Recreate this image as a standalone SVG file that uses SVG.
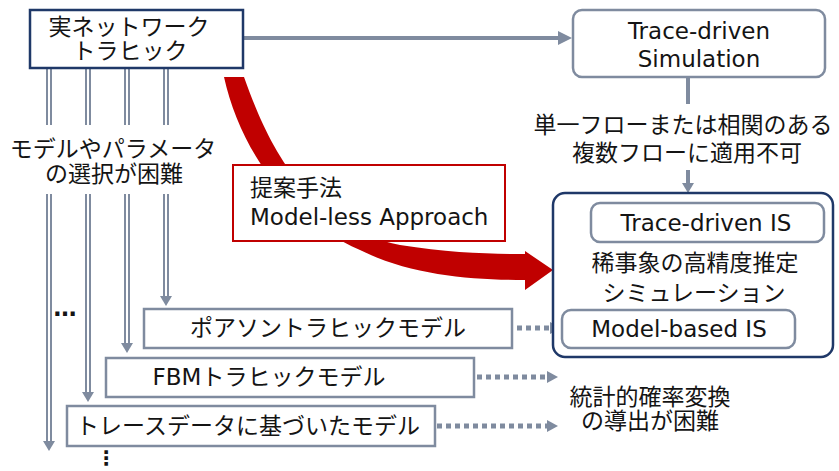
<svg xmlns="http://www.w3.org/2000/svg" width="839" height="471" viewBox="0 0 839 471">
<style>
.t{font-family:"DejaVu Sans","Noto Sans CJK JP",sans-serif;font-size:23px;fill:#141414}
.m{text-anchor:middle}
.gbox{fill:#fff;stroke:#7f8b9f;stroke-width:2.5}
.nbox{fill:#fff;stroke:#1f3868;stroke-width:2.5}
.rbox{fill:#fff;stroke:#c00000;stroke-width:2}
.dbl{stroke:#7f8b9f;stroke-width:6;fill:none}
.dblw{stroke:#fff;stroke-width:2;fill:none}
.solid{stroke:#7f8b9f;stroke-width:4;fill:none}
.dot{stroke:#7f8b9f;stroke-width:5;stroke-dasharray:5 4;fill:none}
.ah{fill:#7f8b9f}
</style>
<rect width="839" height="471" fill="#fff"/>
<g id="connectors">
  <path id="red-arrow" fill="#c00000" d="M224,77 L244,77 C263,130 300,225 400,245 C450,253 490,254 525,254 L525,251 L553,270 L525,290 L525,280 C470,280 410,275 360,250 C290,220 240,150 224,77 Z"/>
  <g id="double-arrows">
    <path class="dbl" d="M49,68V125M88,68V125M127,68V125M166,68V125M49,194V442M88,194V393M127,194V344M166,194V297"/>
    <path class="dblw" d="M49,68V125M88,68V125M127,68V125M166,68V125M49,194V442M88,194V393M127,194V344M166,194V297"/>
    <polygon class="ah" points="160,296 172,296 166,306"/>
    <polygon class="ah" points="121,343 133,343 127,353"/>
    <polygon class="ah" points="82,392 94,392 88,402"/>
    <polygon class="ah" points="43,441 55,441 49,451"/>
  </g>
  <path class="solid" d="M243,38H559"/>
  <polygon class="ah" points="558,31 572,38 558,45"/>
  <path class="solid" d="M688,77V104M688,170V184"/>
  <polygon class="ah" points="682,183 694,183 688,193"/>
  <path class="dot" d="M517,328H551M477,377H547M437,426H547"/>
  <polygon class="ah" points="550,322 562,328 550,334"/>
  <polygon class="ah" points="547,371 558,377 547,383"/>
  <polygon class="ah" points="547,420 558,426 547,432"/>
</g>
<g id="real-traffic">
  <rect class="nbox" x="30" y="10" width="213" height="58"/>
  <text class="t m" x="129" y="35">実ネットワーク</text>
  <text class="t m" x="130" y="59">トラヒック</text>
</g>
<g id="trace-sim">
  <rect class="gbox" x="573" y="10" width="252" height="67" rx="9" stroke-width="2"/>
  <text class="t m" x="699" y="39">Trace-driven</text>
  <text class="t m" x="699" y="67">Simulation</text>
</g>
<g id="note-single-flow">
  <text class="t m" x="683" y="133">単一フローまたは相関のある</text>
  <text class="t m" x="687" y="161">複数フローに適用不可</text>
</g>
<g id="note-model-select">
  <text class="t m" x="113" y="157">モデルやパラメータ</text>
  <text class="t m" x="114" y="182">の選択が困難</text>
</g>
<g id="proposal">
  <rect class="rbox" x="233" y="165" width="272" height="76"/>
  <text class="t" x="250" y="196">提案手法</text>
  <text class="t" x="250" y="225">Model-less Approach</text>
</g>
<g id="is-group">
  <rect class="nbox" x="553" y="193" width="280" height="164" rx="12"/>
  <g id="trace-is">
    <rect class="gbox" x="591" y="203" width="233" height="39" rx="9" stroke-width="2"/>
    <text class="t m" x="706" y="231">Trace-driven IS</text>
  </g>
  <text class="t m" x="695" y="271">稀事象の高精度推定</text>
  <text class="t m" x="694" y="301">シミュレーション</text>
  <g id="model-is">
    <rect class="gbox" x="562" y="310" width="233" height="38" rx="9" stroke-width="2"/>
    <text class="t m" x="679" y="337">Model-based IS</text>
  </g>
</g>
<g id="poisson">
  <rect class="gbox" x="144" y="309" width="368" height="39"/>
  <text class="t m" x="328" y="336">ポアソントラヒックモデル</text>
</g>
<g id="fbm">
  <rect class="gbox" x="106" y="358" width="368" height="39"/>
  <text class="t m" x="269" y="385">FBMトラヒックモデル</text>
</g>
<g id="trace-model">
  <rect class="gbox" x="67" y="406" width="368" height="40"/>
  <text class="t m" x="248" y="434">トレースデータに基づいたモデル</text>
</g>
<g id="note-stat">
  <text class="t m" x="650" y="405">統計的確率変換</text>
  <text class="t m" x="650" y="429">の導出が困難</text>
</g>
<text class="t m" x="65" y="316" style="font-weight:bold">…</text>
<text class="t m" x="106" y="465" style="font-size:20px;font-weight:bold">⋮</text>
</svg>
